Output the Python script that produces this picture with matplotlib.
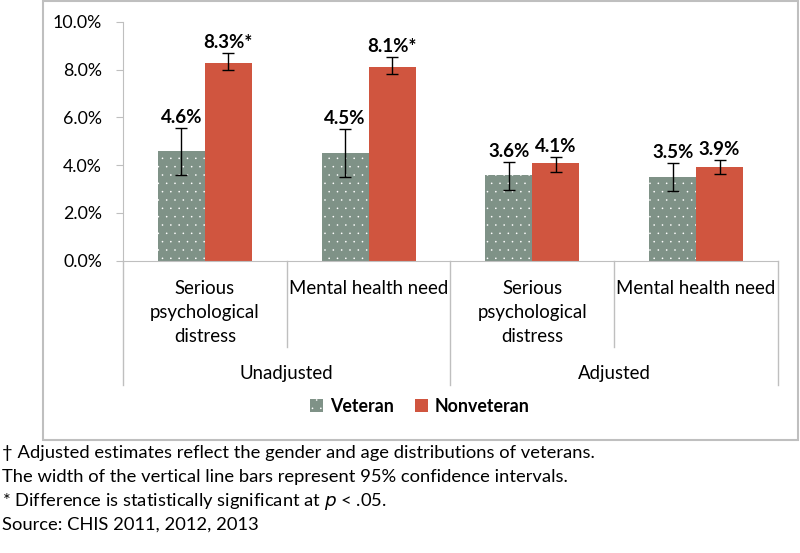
import numpy as np
import matplotlib
matplotlib.use("Agg")
import matplotlib.pyplot as plt
from matplotlib.patches import Rectangle

plt.rcParams['font.family'] = ['Lato', 'DejaVu Sans']
plt.rcParams['hatch.linewidth'] = 0.0

# data
categories = ["Serious\npsychological\ndistress", "Mental health need",
              "Serious\npsychological\ndistress", "Mental health need"]
groups = ["Unadjusted", "Adjusted"]
veteran = [4.6, 4.5, 3.6, 3.5]
nonveteran = [8.3, 8.1, 4.1, 3.9]
veteran_lo = [3.6, 3.5, 2.95, 2.93]
veteran_hi = [5.55, 5.5, 4.13, 4.09]
nonveteran_lo = [7.98, 7.82, 3.72, 3.63]
nonveteran_hi = [8.72, 8.53, 4.35, 4.21]
veteran_labels = ["4.6%", "4.5%", "3.6%", "3.5%"]
nonveteran_labels = ["8.3%*", "8.1%*", "4.1%", "3.9%"]
yticks = [0, 2, 4, 6, 8, 10]
footnotes = [
    "\u2020 Adjusted estimates reflect the gender and age distributions of veterans.",
    "The width of the vertical line bars represent 95% confidence intervals.",
    "* Difference is statistically significant at $\\it{p}$ < .05.",
    "Source: CHIS 2011, 2012, 2013",
]

vet_color = "#7f9287"
non_color = "#d0553f"
grid_gray = "#bfbfbf"

fig = plt.figure(figsize=(8, 5.53), dpi=100)
ax = fig.add_axes([123/800, 1 - 260.5/553, 655/800, 238.5/553])

x = np.arange(len(categories))
w = 0.287
vet_err = [np.array(veteran) - np.array(veteran_lo), np.array(veteran_hi) - np.array(veteran)]
non_err = [np.array(nonveteran) - np.array(nonveteran_lo), np.array(nonveteran_hi) - np.array(nonveteran)]

ax.bar(x - w/2, veteran, w, color=vet_color, edgecolor="white", linewidth=0, hatch="..",
       label="Veteran", zorder=2)
ax.bar(x + w/2, nonveteran, w, color=non_color, linewidth=0, label="Nonveteran", zorder=2)
ax.errorbar(x - w/2, veteran, yerr=vet_err, fmt="none", ecolor="black", elinewidth=1,
            capsize=4, capthick=1, zorder=3)
ax.errorbar(x + w/2, nonveteran, yerr=non_err, fmt="none", ecolor="black", elinewidth=1,
            capsize=4, capthick=1, zorder=3)

for i in range(len(categories)):
    ax.text(x[i] - w/2, veteran_hi[i] + 0.08, veteran_labels[i], ha="center", va="bottom",
            fontsize=13.5, fontweight="bold")
    ax.text(x[i] + w/2, nonveteran_hi[i] + 0.08, nonveteran_labels[i], ha="center", va="bottom",
            fontsize=13.5, fontweight="bold")

ax.set_xlim(-0.5, len(categories) - 0.5)
ax.set_ylim(0, 10)
ax.set_yticks(yticks)
ax.set_yticklabels([f"{t:.1f}%" for t in yticks], fontsize=12.8)
ax.set_xticks([])
for s in ["top", "right"]:
    ax.spines[s].set_visible(False)
ax.spines["left"].set_color(grid_gray)
ax.spines["bottom"].set_color(grid_gray)
ax.tick_params(axis="y", length=5, color=grid_gray, pad=10)

# category axis dividers
trans = ax.get_xaxis_transform()
for b in np.arange(-0.5, len(categories), 1.0):
    outer = b in (-0.5, 1.5, 3.5)
    y_end = -0.522 if outer else -0.363
    ax.plot([b, b], [0, y_end], color=grid_gray, lw=1, transform=trans, clip_on=False)

for i, c in enumerate(categories):
    ax.text(x[i], -0.08, c, transform=trans, ha="center", va="top", fontsize=13.4,
            linespacing=1.5)
for g, name in enumerate(groups):
    ax.text(2 * g + 0.5, -0.475, name, transform=trans, ha="center", va="center", fontsize=13.4)

fig.legend(loc="center", bbox_to_anchor=(420/800, 1 - 406/553), ncol=2, frameon=False,
           prop={"weight": "bold", "size": 12.8}, handlelength=0.7, handleheight=0.7,
           handletextpad=0.4, columnspacing=1.2)

fig.patches.append(Rectangle((43/800, 1 - 440/553), 755/800, 439/553, transform=fig.transFigure,
                             fill=False, edgecolor=grid_gray, lw=1.5))

for k, line in enumerate(footnotes):
    fig.text(2/800, 1 - (453 + 24*k)/553, line, ha="left", va="center", fontsize=13.2)

fig.savefig("out.png", dpi=100)
